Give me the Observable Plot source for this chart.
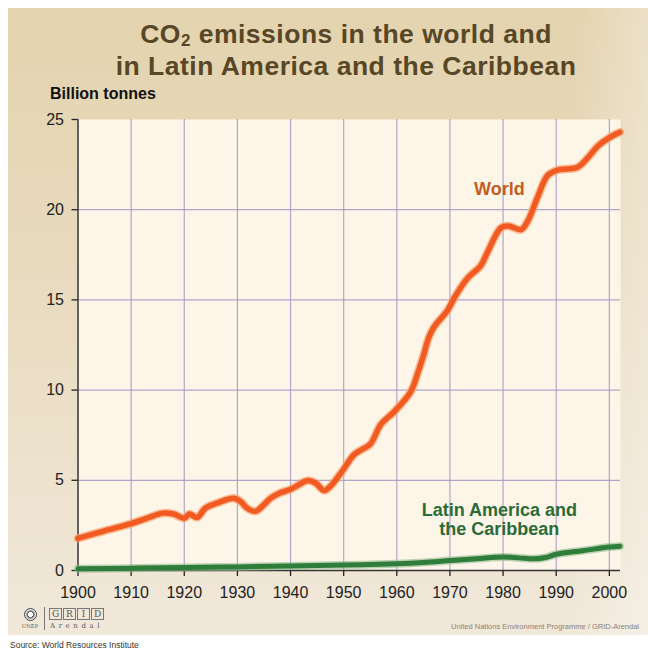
<!DOCTYPE html>
<html>
<head>
<meta charset="utf-8">
<script src="https://cdn.jsdelivr.net/npm/d3@7"></script>
<script src="https://cdn.jsdelivr.net/npm/@observablehq/plot@0.6"></script>
<style>
  html, body { margin: 0; padding: 0; background: #fff; }
  #wrap { position: relative; width: 648px; height: 650px; overflow: hidden; font-family: Arial, "Liberation Sans", Helvetica, sans-serif; }
  #panel { position: absolute; left: 8px; top: 8px; width: 640px; height: 627px;
    background: linear-gradient(to right, rgba(255,255,255,0) 88%, rgba(255,255,255,0.3) 100%),
                linear-gradient(to bottom, #e3d3ae 0%, #e8dabd 40%, #f1e8da 100%); }
  #title { position: absolute; left: 8px; top: 20px; width: 676px; text-align: center; color: #574726;
    font-weight: bold; font-size: 26.5px; line-height: 28.4px; letter-spacing: 0.5px; }
  #unit { position: absolute; left: 50px; top: 85px; font-weight: bold; font-size: 16px; color: #111; }
  #chart { position: absolute; left: 0; top: 0; }
  #credit { position: absolute; left: 451px; top: 622px; font-size: 7.5px; line-height: 9px; color: #8a8378; white-space: nowrap; }
  #source { position: absolute; left: 10px; top: 640px; font-size: 8.5px; line-height: 10px; color: #333; white-space: nowrap; }
  #unep { position: absolute; left: 18px; top: 608px; width: 24px; text-align: center; }
  #unep .c { width: 11px; height: 11px; border-radius: 50%; border: 1.5px solid #444; margin: 0 auto; background: radial-gradient(circle, #fff 30%, #555 35%, #fff 70%); }
  #unep .t { font-family: "DejaVu Serif", serif; font-size: 5px; line-height: 6px; color: #555; margin-top: 2px; letter-spacing: 0.2px; }
  #sep { position: absolute; left: 44px; top: 607px; width: 1px; height: 23px; background: #777; }
  #grid { position: absolute; left: 49px; top: 608px; font-family: "DejaVu Serif", serif; line-height: 11px; height: 12px; }
  #grid span { display: inline-block; width: 11px; height: 10px; border: 1px solid #777; font-size: 9px; line-height: 10px; text-align: center; color: #555; margin-right: 1px; vertical-align: top; }
  #arendal { position: absolute; left: 50px; top: 622px; font-family: "DejaVu Serif", serif; font-size: 7px; line-height: 8px; letter-spacing: 3.6px; color: #555; }
</style>
</head>
<body>
<div id="wrap">
  <div id="panel"></div>
  <div id="title">CO<span style="font-size:17px;position:relative;top:3px">2</span> emissions in the world and<br>in Latin America and the Caribbean</div>
  <div id="unit">Billion tonnes</div>
  <div id="chart"></div>
  <div id="unep"><div class="c"></div><div class="t">UNEP</div></div>
  <div id="sep"></div>
  <div id="grid"><span>G</span><span>R</span><span>I</span><span>D</span></div>
  <div id="arendal">Arendal</div>
  <div id="credit">United Nations Environment Programme / GRID-Arendal</div>
  <div id="source">Source: World Resources Institute</div>
</div>
<script>
// ---- Data ----
const worldYears  = [1900, 1905, 1910, 1913, 1916, 1918, 1920, 1921, 1922.4, 1924, 1926.2, 1929.3, 1930.6, 1931.8, 1933.4, 1935, 1936.2, 1938, 1940, 1941.6, 1943.1, 1944.7, 1946.3, 1947.5, 1949.7, 1951.9, 1953.2, 1955, 1957, 1959.5, 1962.6, 1964, 1965, 1966, 1967, 1969.5, 1971, 1973.3, 1975.8, 1977, 1979.6, 1981, 1983.4, 1984.7, 1986.5, 1988.4, 1990.3, 1994, 1996, 1997.9, 2000, 2002];
const worldValues = [1.78, 2.2, 2.6, 2.9, 3.18, 3.13, 2.9, 3.13, 2.94, 3.46, 3.74, 4.0, 3.83, 3.46, 3.28, 3.65, 4.0, 4.3, 4.5, 4.76, 4.98, 4.85, 4.43, 4.67, 5.5, 6.4, 6.67, 7.0, 8.1, 8.8, 9.9, 11.0, 11.9, 12.9, 13.5, 14.4, 15.2, 16.2, 16.9, 17.6, 19.0, 19.1, 18.9, 19.4, 20.7, 21.9, 22.2, 22.35, 22.9, 23.55, 24.0, 24.3];

const lacYears  = [1900, 1910, 1920, 1930, 1940, 1950, 1960, 1965, 1970, 1975, 1980, 1983, 1986, 1988, 1990, 1995, 2000, 2002];
const lacValues = [0.1, 0.13, 0.17, 0.2, 0.25, 0.3, 0.38, 0.45, 0.55, 0.65, 0.75, 0.7, 0.65, 0.72, 0.9, 1.1, 1.3, 1.35];

const xTicks = [1900, 1910, 1920, 1930, 1940, 1950, 1960, 1970, 1980, 1990, 2000];
const yTicks = [0, 5, 10, 15, 20, 25];
const xGrid = [1910, 1920, 1930, 1940, 1950, 1960, 1970, 1980, 1990, 2000];
const yGrid = [5, 10, 15, 20];

const seriesLabels = [
  {name: "World", year: 1979.3, value: 21.15},
  {name: "Latin America and\nthe Caribbean", year: 1979.3, value: 2.83}
];

const world = worldYears.map((y, i) => ({year: y, value: worldValues[i]}));
const lac = lacYears.map((y, i) => ({year: y, value: lacValues[i]}));

const chart = Plot.plot({
  width: 648,
  height: 615,
  marginTop: 119,
  marginBottom: 45,
  marginLeft: 77.5,
  marginRight: 28,
  x: {domain: [1900, 2002.1]},
  y: {domain: [0, 25]},
  style: {background: "transparent", fontFamily: "Arial, 'Liberation Sans', Helvetica, sans-serif", overflow: "visible"},
  marks: [
    Plot.frame({fill: "#fdf6e8", stroke: "none"}),
    Plot.gridX(xGrid, {stroke: "#a497c4", strokeOpacity: 0.85, strokeWidth: 1.2}),
    Plot.gridY(yGrid, {stroke: "#a497c4", strokeOpacity: 0.85, strokeWidth: 1.2}),
    Plot.axisX(xTicks, {tickSize: 6, tickPadding: 10, fontSize: 16, color: "#222", tickFormat: d => String(d), label: null, strokeWidth: 1.3}),
    Plot.axisY(yTicks, {tickSize: 6, tickPadding: 8, fontSize: 16, color: "#222", label: null, strokeWidth: 1.3}),
    Plot.ruleY([0], {stroke: "#333", strokeWidth: 1.5}),
    Plot.ruleX([1900], {stroke: "#333", strokeWidth: 1.5}),
    // halos, then core lines
    Plot.line(lac, {x: "year", y: "value", stroke: "#8dbb8d", strokeWidth: 8, strokeOpacity: 0.6, curve: "catmull-rom"}),
    Plot.line(lac, {x: "year", y: "value", stroke: "#2f7d3a", strokeWidth: 5, curve: "catmull-rom"}),
    Plot.line(world, {x: "year", y: "value", stroke: "#f7a470", strokeWidth: 8.5, strokeOpacity: 0.7, curve: "catmull-rom"}),
    Plot.line(world, {x: "year", y: "value", stroke: "#f15a22", strokeWidth: 5.5, curve: "catmull-rom"}),
    Plot.text(seriesLabels.slice(0, 1), {x: "year", y: "value", text: "name", fill: "#c65d1e", fontSize: 18, fontWeight: "bold"}),
    Plot.text(seriesLabels.slice(1), {x: "year", y: "value", text: "name", fill: "#2b6b38", fontSize: 18, fontWeight: "bold", lineHeight: 1.05})
  ]
});
document.getElementById("chart").appendChild(chart);
</script>
</body>
</html>
